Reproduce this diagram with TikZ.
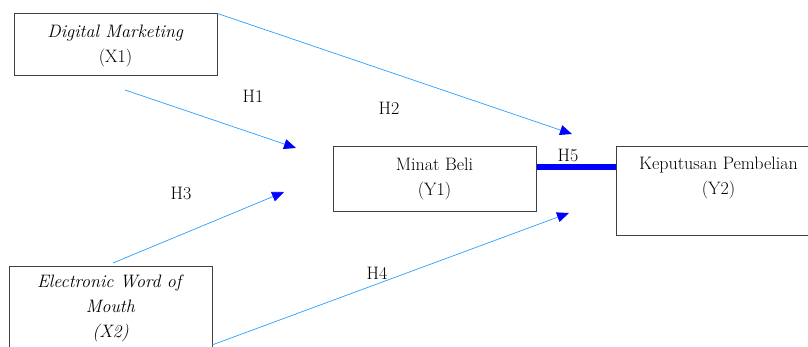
\documentclass[tikz,border=0pt]{standalone}
\usepackage{fontspec}
\usetikzlibrary{arrows.meta}
\definecolor{linkc}{RGB}{40,160,255}
\definecolor{headc}{RGB}{0,0,255}
\tikzset{
  boxnode/.style={draw=black!75, line width=1pt, inner sep=0pt},
  txt/.style={font=\fontsize{18}{25}\selectfont, align=center, inner sep=0pt},
  link/.style={draw=linkc, line width=0.7pt, -{Triangle[length=12pt,width=10pt,fill=headc,color=headc]}},
  hlab/.style={font=\fontsize{18}{25}\selectfont, inner sep=0pt}
}
\begin{document}
\begin{tikzpicture}[x=1pt,y=-1pt]
\useasboundingbox (0,0) rectangle (808,347);
\clip (0,0) rectangle (808,347);
\fill[white] (0,0) rectangle (808,347);
% boxes
\node[boxnode, minimum width=203pt, minimum height=62pt] (x1) at (115.5,45) {};
\node[txt] (x1t) at (115.5,46) {\textit{Digital Marketing}\\(X1)};
\node[boxnode, minimum width=203pt, minimum height=65pt] (y1) at (434.5,179.5) {};
\node[txt] (y1t) at (434.5,179) {Minat Beli\\(Y1)};
\node[boxnode, minimum width=216pt, minimum height=89pt] (y2) at (724,191.5) {};
\node[txt, anchor=north] (y2t) at (718.5,157) {Keputusan Pembelian\\(Y2)};
\node[boxnode, minimum width=203pt, minimum height=110pt] (x2) at (110.5,322) {};
\node[txt, anchor=north] (x2t) at (110.5,275) {\textit{Electronic Word of}\\\textit{Mouth}\\\textit{(X2)}};
% free arrow ends
\coordinate (a1s) at (125,90);
\coordinate (a1e) at (296,148);
\coordinate (a2e) at (572,134);
\coordinate (a3s) at (113,263);
\coordinate (a3e) at (284,192);
\coordinate (a4s) at (212,345);
\coordinate (a4e) at (569,213);
% connectors
\draw[link] (a1s) -- (a1e);
\draw[link] (x1.north east) -- (a2e);
\draw[link] (a3s) -- (a3e);
\draw[link] (a4s) -- (a4e);
\draw[headc, line width=6pt] (y1.east |- 0,167) -- (y2.west |- 0,167);
% labels
\node[hlab] (h1) at (253,96) {H1};
\node[hlab] (h2) at (389,108) {H2};
\node[hlab] (h3) at (181,193) {H3};
\node[hlab] (h4) at (377,273) {H4};
\node[hlab] (h5) at (568,155) {H5};
\end{tikzpicture}
\end{document}
